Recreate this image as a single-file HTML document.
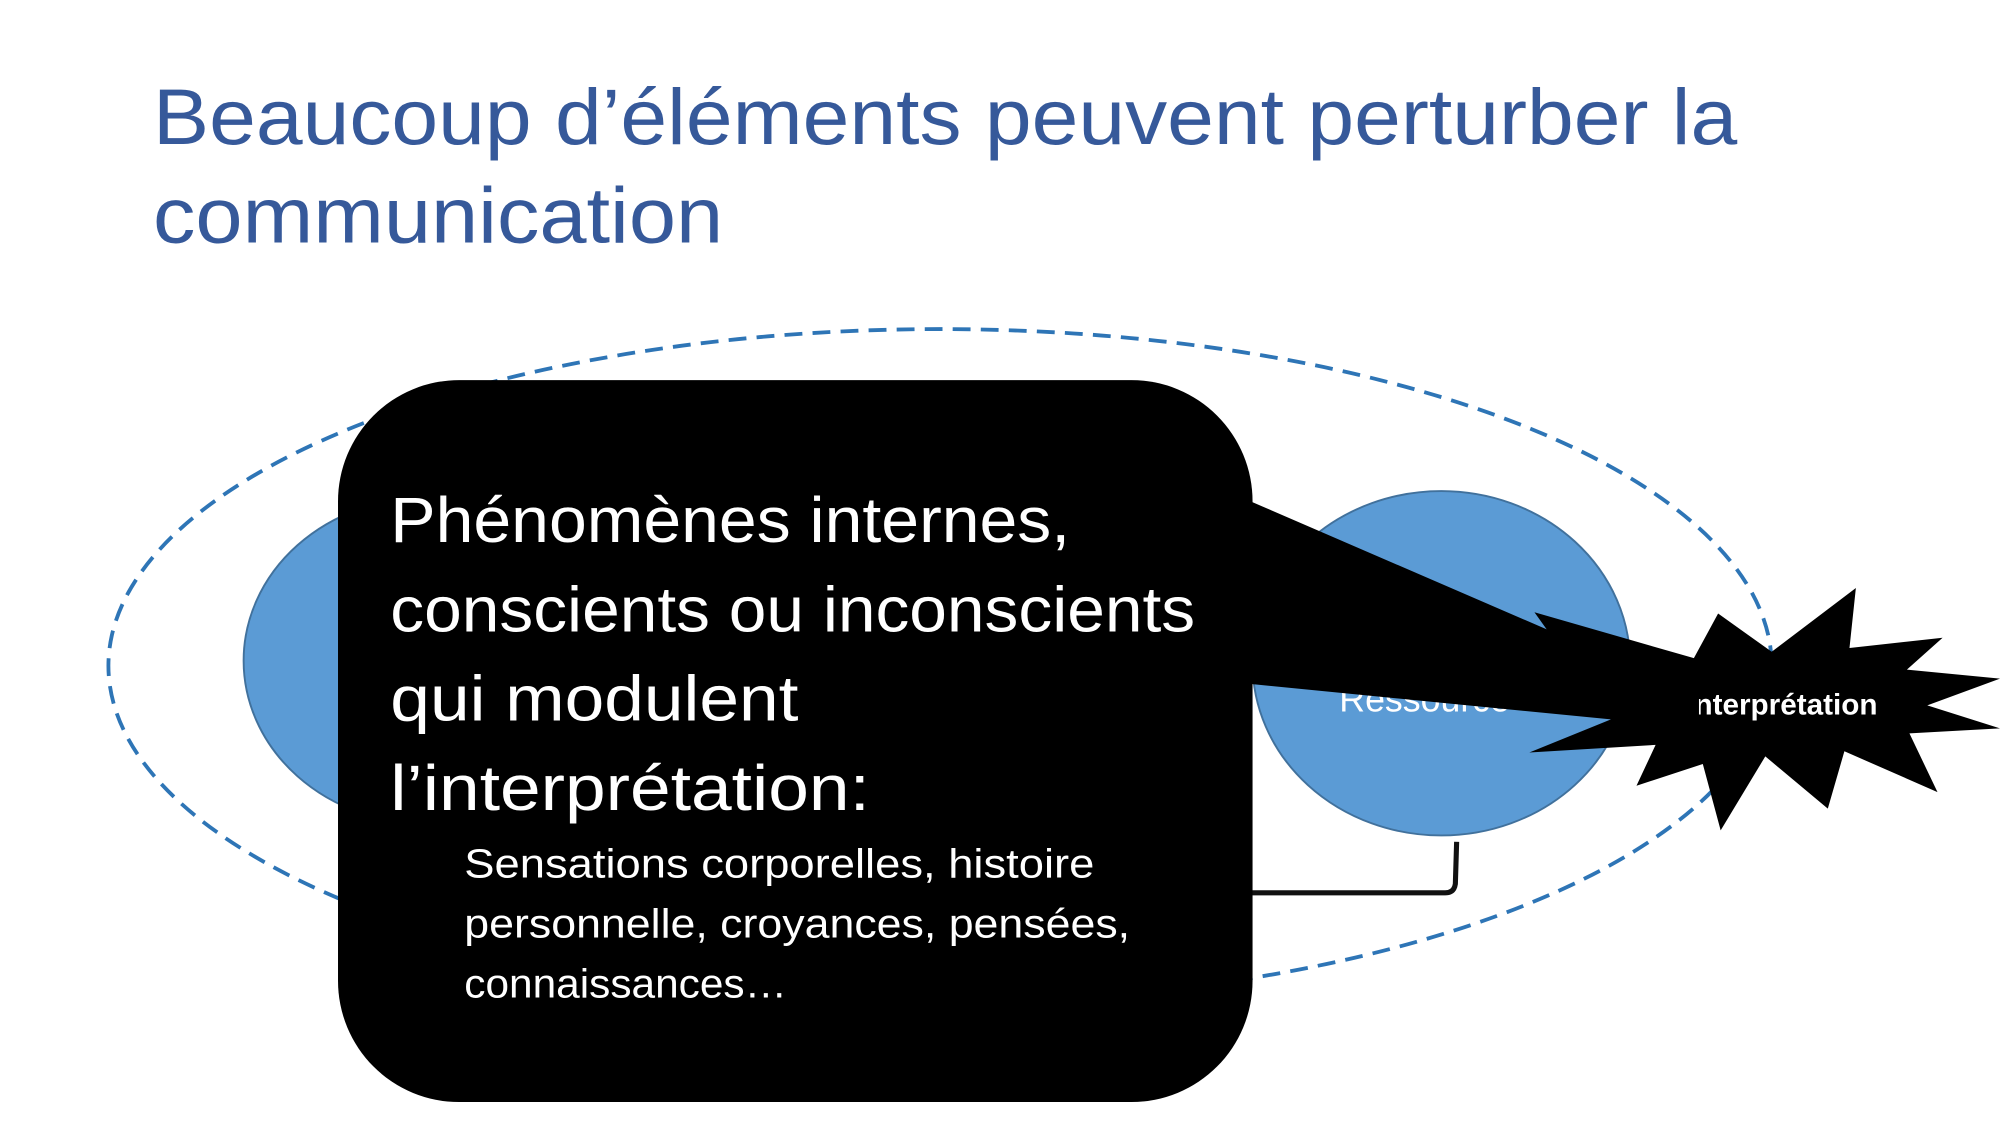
<!DOCTYPE html>
<html><head><meta charset="utf-8"><style>
html,body{margin:0;padding:0;background:#fff;}
svg{display:block;}
text{font-family:"Liberation Sans",sans-serif;}
</style></head><body>
<svg width="2000" height="1125" viewBox="0 0 1568 882" preserveAspectRatio="none" xmlns="http://www.w3.org/2000/svg">
<rect width="1568" height="882" fill="#fff"/>
<text x="120" y="113" font-size="62" fill="#36599A" textLength="1242" lengthAdjust="spacingAndGlyphs">Beaucoup d’éléments peuvent perturber la</text>
<text x="120" y="190" font-size="62" fill="#36599A" textLength="447" lengthAdjust="spacingAndGlyphs">communication</text>
<ellipse cx="737" cy="522" rx="652" ry="264" fill="none" stroke="#2E75B6" stroke-width="3" stroke-dasharray="14 8"/>
<ellipse cx="335" cy="518" rx="144" ry="128" fill="#5B9BD5" stroke="#41719C" stroke-width="1.5"/>
<ellipse cx="1130" cy="520" rx="148" ry="135" fill="#5B9BD5" stroke="#41719C" stroke-width="1.5"/>
<text x="1050" y="558" font-size="28" fill="#fff">Ressource</text>
<path d="M1142,660 L1141,693 Q1140,700 1133,700 L975,700" fill="none" stroke="#111" stroke-width="4"/>
<rect x="265" y="298" width="717" height="566" rx="95" ry="95" fill="#000"/>
<polygon fill="#000" points="1203,480 1328,516 1347,481 1389,511 1455,461 1450,508 1523,500 1495,525 1568,532 1511,553 1568,571 1497,575 1519,621 1446,589 1433,634 1384,593 1349,651 1335,599 1283,616 1298,584 1199,590 1263,564"/>
<text x="1472" y="560" font-size="23" font-weight="bold" fill="#fff" text-anchor="end" textLength="150" lengthAdjust="spacingAndGlyphs">Interprétation</text>
<polygon fill="#000" points="978,392 1332,545 1332,563 1263,564 978,536"/>
<g fill="#fff">
<text x="306" y="425" font-size="50" textLength="533" lengthAdjust="spacingAndGlyphs">Phénomènes internes,</text>
<text x="306" y="495" font-size="50" textLength="631" lengthAdjust="spacingAndGlyphs">conscients ou inconscients</text>
<text x="306" y="565" font-size="50" textLength="320" lengthAdjust="spacingAndGlyphs">qui modulent</text>
<text x="306" y="635" font-size="50" textLength="376" lengthAdjust="spacingAndGlyphs">l’interprétation:</text>
<text x="364" y="688" font-size="32" textLength="494" lengthAdjust="spacingAndGlyphs">Sensations corporelles, histoire</text>
<text x="364" y="735" font-size="32" textLength="522" lengthAdjust="spacingAndGlyphs">personnelle, croyances, pensées,</text>
<text x="364" y="782" font-size="32" textLength="253" lengthAdjust="spacingAndGlyphs">connaissances…</text>
</g>
</svg>
</body></html>
